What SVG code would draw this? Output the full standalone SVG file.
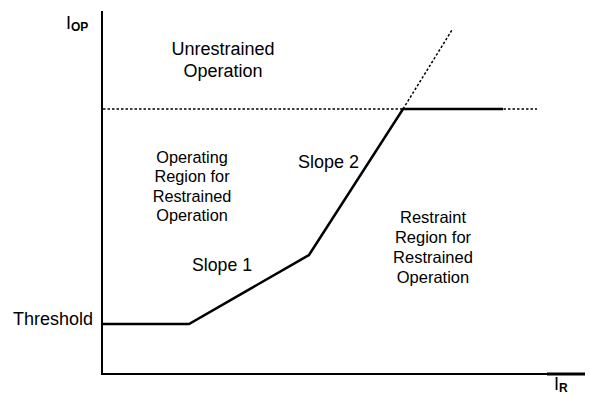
<svg xmlns="http://www.w3.org/2000/svg" width="589" height="394" viewBox="0 0 589 394">
<style>
text{font-family:"Liberation Sans",Arial,sans-serif;fill:#000}
.sub{font-weight:bold;font-size:12px}
.axis{stroke:#000;stroke-width:2;fill:none}
.curve{stroke:#000;stroke-width:2.5;fill:none;stroke-linejoin:miter}
.dot{stroke:#000;stroke-width:1.5;stroke-dasharray:2.5 2;fill:none}
</style>
<rect width="589" height="394" fill="#fff"/>
<g id="connectors">
<path class="dot" d="M103 109 H537"/>
<path class="dot" d="M403 109 L452 30"/>
<path class="axis" d="M102 11 V374 H585"/>
<path d="M547 374 H585" stroke="#000" stroke-width="3"/>
<path class="curve" d="M103 324 H189 L309 255 L403 109 H503"/>
</g>
<g id="y-label"><text x="66" y="29" font-size="18">I<tspan class="sub" dy="2">OP</tspan></text></g>
<g id="x-label"><text x="554" y="390" font-size="18">I<tspan class="sub" dy="2">R</tspan></text></g>
<g id="unrestrained"><text x="223" text-anchor="middle" font-size="18"><tspan x="223" y="55">Unrestrained</tspan><tspan x="223" y="77">Operation</tspan></text></g>
<g id="operating"><text text-anchor="middle" font-size="16.3"><tspan x="192" y="163">Operating</tspan><tspan x="192" y="182">Region for</tspan><tspan x="192" y="202">Restrained</tspan><tspan x="192" y="221">Operation</tspan></text></g>
<g id="restraint"><text text-anchor="middle" font-size="16.5"><tspan x="433" y="223">Restraint</tspan><tspan x="433" y="243">Region for</tspan><tspan x="433" y="263">Restrained</tspan><tspan x="433" y="283">Operation</tspan></text></g>
<g id="slope1"><text x="192" y="271" font-size="17.7">Slope 1</text></g>
<g id="slope2"><text x="298" y="168" font-size="18">Slope 2</text></g>
<g id="threshold"><text x="13" y="325" font-size="18">Threshold</text></g>
</svg>
